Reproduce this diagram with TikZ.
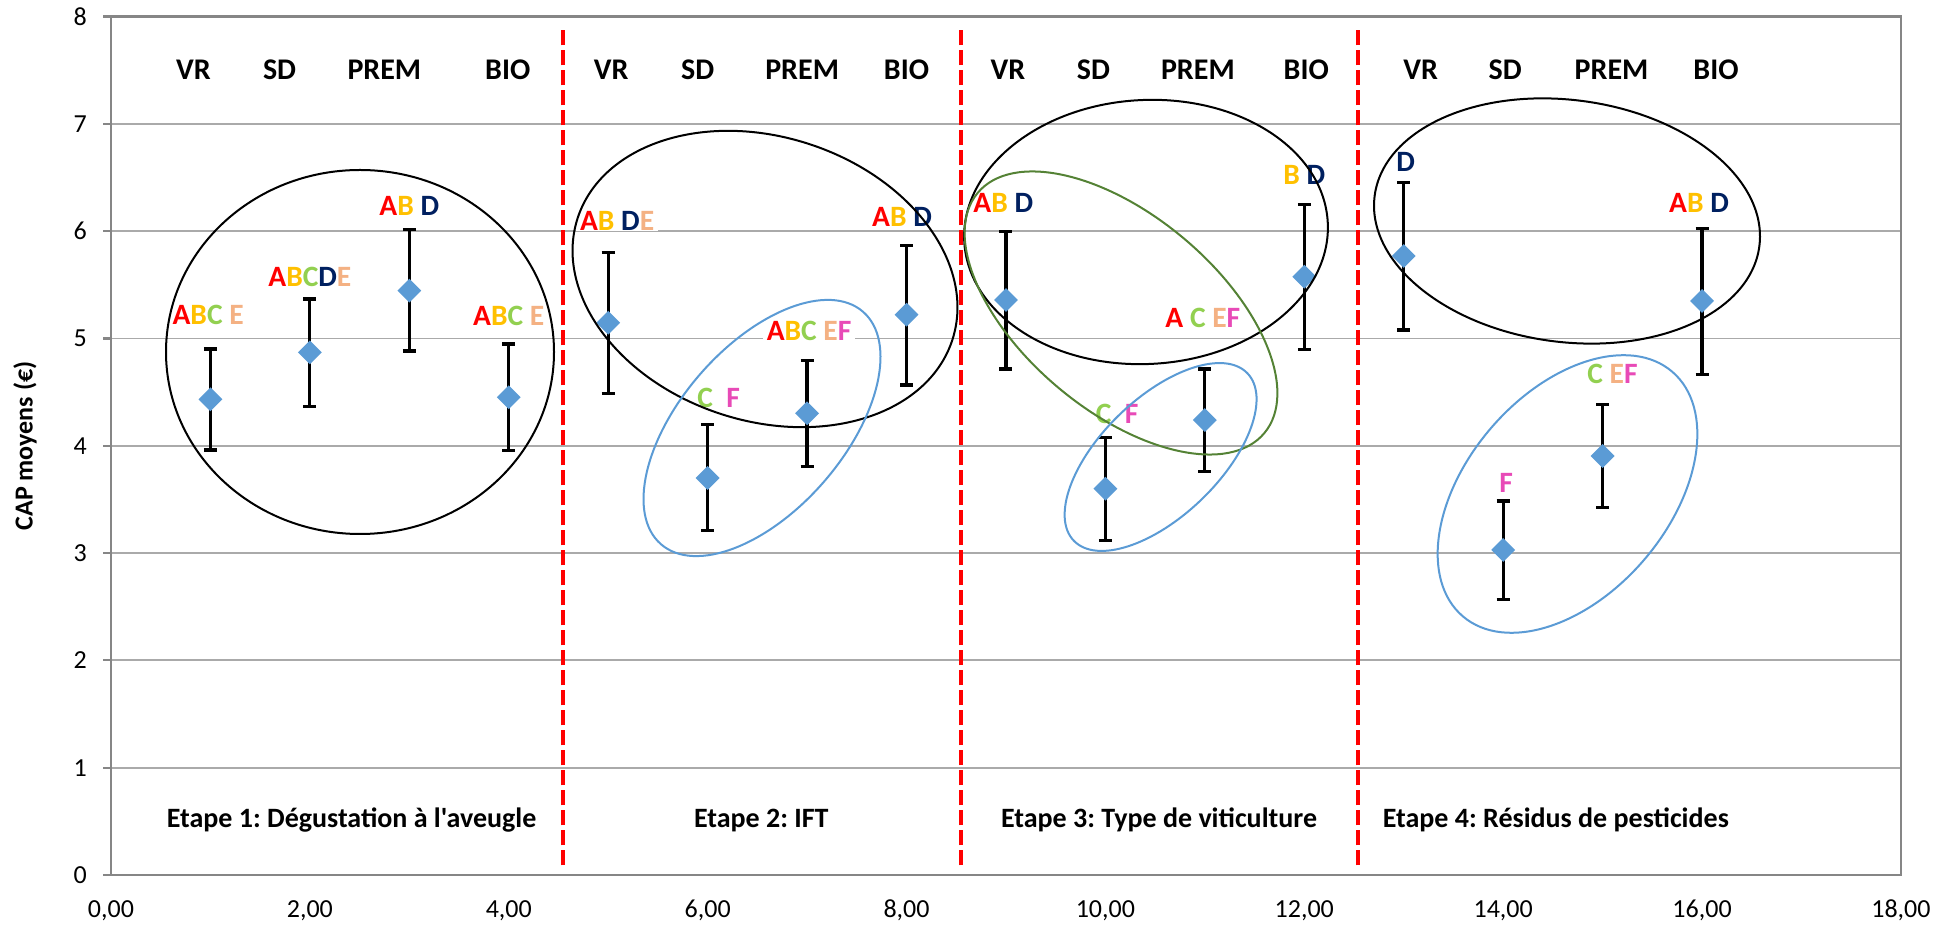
\documentclass[tikz,border=0pt]{standalone}
\usepackage{fontspec}
\setmainfont{Carlito}
\newfontfamily\titlefont{Carlito}
\usetikzlibrary{shapes.geometric}
\frenchspacing

\definecolor{cA}{RGB}{255,0,0}
\definecolor{cB}{RGB}{255,192,0}
\definecolor{cC}{RGB}{146,208,80}
\definecolor{cD}{RGB}{0,32,96}
\definecolor{cE}{RGB}{244,177,131}
\definecolor{cF}{RGB}{232,74,183}
\definecolor{markblue}{RGB}{91,155,213}
\definecolor{gridgray}{RGB}{170,170,170}
\definecolor{axisgray}{RGB}{134,134,134}
\definecolor{ringgreen}{RGB}{84,130,53}

\newcommand\LtA{\textcolor{cA}{A}}
\newcommand\LtB{\textcolor{cB}{B}}
\newcommand\LtC{\textcolor{cC}{C}}
\newcommand\LtD{\textcolor{cD}{D}}
\newcommand\LtE{\textcolor{cE}{E}}
\newcommand\LtF{\textcolor{cF}{F}}

\tikzset{
  gridline/.style={draw=gridgray, line width=1.8pt},
  frameline/.style={draw=axisgray, line width=2.2pt},
  ticklabel/.style={inner sep=0pt, font=\fontsize{26}{30}\selectfont},
  stageline/.style={draw=red, line width=4pt, dash pattern=on 15pt off 5pt},
  errbar/.style={draw=black, line width=3.2pt},
  datamark/.style={diamond, fill=markblue, inner sep=0pt, minimum width=24pt, minimum height=24pt},
  lettertag/.style={inner xsep=4pt, inner ysep=1pt, fill=white, font=\fontsize{29.5}{32}\selectfont\bfseries},
  headtag/.style={inner sep=0pt, font=\fontsize{30}{33}\selectfont\bfseries},
  stagetag/.style={inner sep=0pt, anchor=base, font=\titlefont\fontsize{28}{31}\selectfont\bfseries},
  ring/.style={draw=black, line width=2pt},
  bluering/.style={draw=markblue, line width=2pt},
  greenring/.style={draw=ringgreen, line width=2pt},
}

\begin{document}
\begin{tikzpicture}[x=1pt, y=1pt]
\useasboundingbox (0,0) rectangle (1957,926);

% horizontal gridlines and frame of the plot area
\foreach \k in {1,...,7}
  \draw[gridline] (111,{51+107.3*\k}) -- (1901,{51+107.3*\k});
\draw[frameline] (111,51) rectangle (1901,909.4);
\foreach \k in {0,...,8}{
  \draw[frameline] (103,{51+107.3*\k}) -- (111,{51+107.3*\k});
  \node[ticklabel, anchor=east] (ylab\k) at (87,{51+107.3*\k}) {\k};
}
\foreach \v in {0,2,...,18}
  \node[ticklabel, anchor=base] (xlab\v) at ({111+99.44*\v},8) {\v,00};

\node[rotate=90, inner sep=0pt, font=\fontsize{26}{30}\selectfont\bfseries] (ytitle) at (25,480) {CAP moyens (€)};

% data coordinates
\begin{scope}[shift={(111pt,51pt)}, x=99.44pt, y=107.3pt]
  % stage separators
  \foreach \s in {4.545,8.548,12.54}
    \draw[stageline] (\s,0.09) -- (\s,7.875);

  % means with error bars
  \foreach \i/\m/\lo/\hi in {1/4.433/3.960/4.902, 2/4.871/4.364/5.368,
      3/5.446/4.883/6.018, 4/4.452/3.954/4.949, 5/5.147/4.486/5.800,
      6/3.700/3.210/4.200, 7/4.303/3.805/4.797, 8/5.222/4.567/5.868,
      9/5.359/4.716/5.995, 10/3.600/3.115/4.079, 11/4.240/3.759/4.716,
      12/5.576/4.899/6.250, 13/5.769/5.079/6.456, 14/3.029/2.569/3.486,
      15/3.905/3.427/4.387, 16/5.350/4.663/6.027}{
    \coordinate (lo\i) at (\i,\lo);
    \coordinate (hi\i) at (\i,\hi);
    \draw[errbar] (lo\i) -- (hi\i);
    \draw[errbar] ([xshift=-6.5pt]lo\i) -- ([xshift=6.5pt]lo\i);
    \draw[errbar] ([xshift=-6.5pt]hi\i) -- ([xshift=6.5pt]hi\i);
    \node[datamark] (pt\i) at (\i,\m) {};
  }

  % group letters
  \node[lettertag] (tag1)  at (0.977,5.224) {\LtA\LtB\LtC\ \LtE};
  \node[lettertag] (tag2)  at (2.000,5.573) {\LtA\LtB\LtC\LtD\LtE};
  \node[lettertag] (tag3)  at (3.000,6.235) {\LtA\LtB\ \LtD};
  \node[lettertag] (tag4)  at (4.000,5.212) {\LtA\LtB\LtC\ \LtE};
  \node[lettertag] (tag5)  at (5.090,6.100) {\LtA\LtB\ \LtD\LtE};
  \node[lettertag] (tag6)  at (6.110,4.445) {\LtC\ \ \LtF};
  \node[lettertag] (tag7)  at (7.020,5.075) {\LtA\LtB\LtC\ \LtE\LtF};
  \node[lettertag] (tag8)  at (7.955,6.132) {\LtA\LtB\ \LtD};
  \node[lettertag] (tag9)  at (8.973,6.263) {\LtA\LtB\ \LtD};
  \node[lettertag] (tag10) at (10.117,4.300) {\LtC\ \ \LtF};
  \node[lettertag] (tag11) at (10.980,5.190) {\LtA\ \LtC\ \LtE\LtF};
  \node[lettertag] (tag12) at (12.000,6.528) {\LtB\ \LtD};
  \node[lettertag] (tag13) at (13.020,6.650) {\LtD};
  \node[lettertag] (tag14) at (14.030,3.653) {\LtF};
  \node[lettertag] (tag15) at (15.100,4.669) {\LtC\ \LtE\LtF};
  \node[lettertag] (tag16) at (15.970,6.267) {\LtA\LtB\ \LtD};

  % product headers
  \foreach \g/\a/\b/\c/\d in {1/0.83/1.695/2.749/3.99, 2/5.03/5.90/6.95/8.0,
      3/9.02/9.88/10.93/12.02, 4/13.17/14.02/15.09/16.14}{
    \node[headtag] (vr\g)   at (\a,7.507) {VR};
    \node[headtag] (sd\g)   at (\b,7.507) {SD};
    \node[headtag] (prem\g) at (\c,7.507) {PREM};
    \node[headtag] (bio\g)  at (\d,7.507) {BIO};
  }

  % stage titles
  \node[stagetag] (stage1) at (2.42,0.438)  {Etape 1: Dégustation à l'aveugle};
  \node[stagetag] (stage2) at (6.54,0.438)  {Etape 2: IFT};
  \node[stagetag] (stage3) at (10.54,0.438) {Etape 3: Type de viticulture};
  \node[stagetag] (stage4) at (14.53,0.438) {Etape 4: Résidus de pesticides};
\end{scope}

% groupings
\draw[ring] (360,574) ellipse [x radius=194pt, y radius=182pt];
\draw[ring, rotate around={-18:(765,647)}] (765,647) ellipse [x radius=197pt, y radius=142pt];
\draw[bluering, rotate around={49:(762,498)}] (762,498) ellipse [x radius=154pt, y radius=82pt];
\draw[ring, rotate around={3:(1146,694)}] (1146,694) ellipse [x radius=182pt, y radius=132pt];
\draw[greenring, rotate around={-40:(1121,613)}] (1121,613) ellipse [x radius=187pt, y radius=97.5pt];
\draw[bluering, rotate around={44:(1160.6,469)}] (1160.6,469) ellipse [x radius=120.6pt, y radius=59pt];
\draw[ring, rotate around={-7.5:(1567,705)}] (1567,705) ellipse [x radius=194pt, y radius=121pt];
\draw[bluering, rotate around={49.4:(1567.5,432)}] (1567.5,432) ellipse [x radius=161pt, y radius=101pt];
\end{tikzpicture}
\end{document}
